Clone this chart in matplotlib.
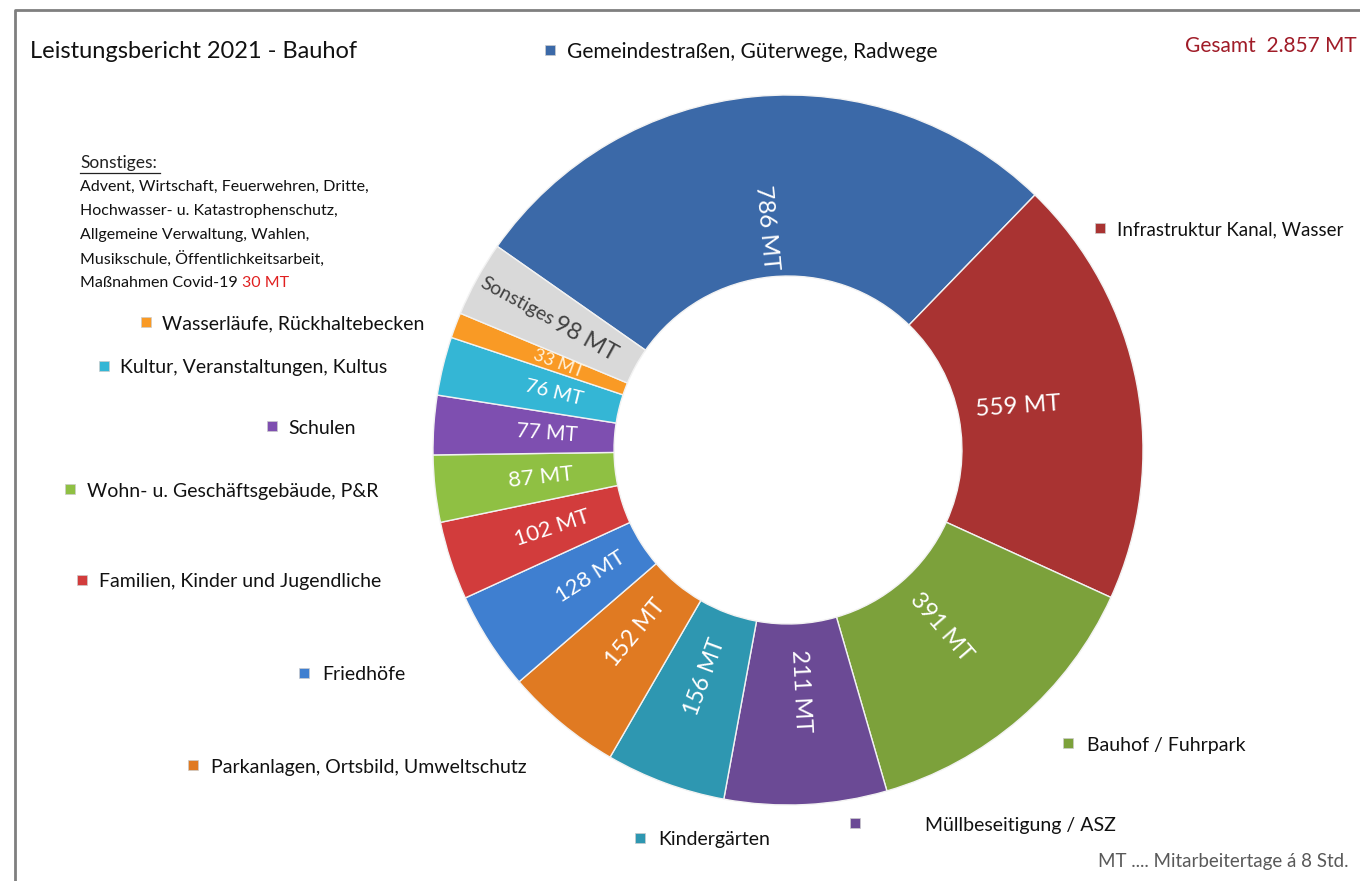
import numpy as np
import matplotlib
matplotlib.use("Agg")
import matplotlib.pyplot as plt
from matplotlib.patches import Rectangle

# ---- data ----
categories = [
    "Gemeindestraßen, Güterwege, Radwege",
    "Infrastruktur Kanal, Wasser",
    "Bauhof / Fuhrpark",
    "Müllbeseitigung / ASZ",
    "Kindergärten",
    "Parkanlagen, Ortsbild, Umweltschutz",
    "Friedhöfe",
    "Familien, Kinder und Jugendliche",
    "Wohn- u. Geschäftsgebäude, P&R",
    "Schulen",
    "Kultur, Veranstaltungen, Kultus",
    "Wasserläufe, Rückhaltebecken",
    "Sonstiges",
]
values = [786, 559, 391, 211, 156, 152, 128, 102, 87, 77, 76, 33, 98]
value_labels = ["786 MT", "559 MT", "391 MT", "211 MT", "156 MT", "152 MT", "128 MT",
                "102 MT", "87 MT", "77 MT", "76 MT", "33 MT", "98 MT"]
title = "Leistungsbericht 2021 - Bauhof"
total_text = "Gesamt  2.857 MT"
footer = "MT .... Mitarbeitertage á 8 Std."
sonstiges_header = "Sonstiges:"
sonstiges_lines = [
    "Advent, Wirtschaft, Feuerwehren, Dritte,",
    "Hochwasser- u. Katastrophenschutz,",
    "Allgemeine Verwaltung, Wahlen,",
    "Musikschule, Öffentlichkeitsarbeit,",
    "Maßnahmen Covid-19",
]
sonstiges_extra = "30 MT"

# ---- style ----
colors = ["#3b69a8", "#a93332", "#7ca13b", "#6b4a95", "#2e97b1", "#e07a22",
          "#3f7fd0", "#d23c3c", "#8fc043", "#7e4fb0", "#34b6d5", "#f99a25", "#d9d9d9"]
label_colors = ["white"] * 11 + ["#fff3dd", "#404040"]
label_radius = [0.63, 0.66, 0.66, 0.68, 0.68, 0.67, 0.66, 0.70, 0.70, 0.68, 0.68, 0.69, 0.77]
label_size = [17.5, 17.5, 17, 17, 16.5, 16.5, 16, 16, 16, 15, 14.5, 13, 17]

# legend positions in pixels (marker x, y) and text x
leg_pos = [
    (550, 50, 567), (1100, 228, 1117), (1068, 743, 1087), (855, 823, 925),
    (640, 838, 658), (193, 765, 211), (304, 673, 322), (82, 580, 99),
    (70, 489, 87), (272, 426, 288), (104, 366, 120), (146, 322, 162),
]
leg_size = [15, 13.5] + [14] * 10

plt.rcParams['font.family'] = ['Lato', 'DejaVu Sans']
W, H = 1360, 881
fig = plt.figure(figsize=(W / 100, H / 100), dpi=100)
fig.patch.set_facecolor("white")

# overlay axes in pixel coords for text/frame
ov = fig.add_axes([0, 0, 1, 1])
ov.set_xlim(0, W)
ov.set_ylim(H, 0)
ov.axis("off")

# pie axes
cx, cy, R = 788, 450, 355
half = 400
ax = fig.add_axes([(cx - half) / W, (H - cy - half) / H, 2 * half / W, 2 * half / H])

startangle = 145
wedges, _ = ax.pie(values, colors=colors, startangle=startangle, counterclock=False,
                   radius=1.0, wedgeprops=dict(width=0.51, edgecolor="#f2f2f2", linewidth=1.0))
L = half / R
ax.set_xlim(-L, L)
ax.set_ylim(-L, L)
ax.set_aspect("equal")
ax.axis("off")

total = sum(values)
ang = startangle
for i, v in enumerate(values):
    span = v / total * 360
    mid = ang - span / 2
    ang -= span
    m = ((mid + 180) % 360) - 180
    if -90 <= m <= 90:
        rot = m
    else:
        rot = m - 180 if m > 0 else m + 180
    if i == 1:
        rot = 4
    r = label_radius[i]
    x = r * np.cos(np.radians(mid))
    y = r * np.sin(np.radians(mid))
    if i == len(values) - 1:
        # "Sonstiges" prefix in smaller type, then value
        d = np.array([np.cos(np.radians(rot)), np.sin(np.radians(rot))])
        p1 = np.array([x, y]) - d * 0.10
        p2 = np.array([x, y]) + d * 0.12
        ax.text(p1[0], p1[1], categories[i], rotation=rot, rotation_mode="anchor",
                ha="center", va="center", color=label_colors[i], fontsize=14)
        ax.text(p2[0], p2[1], value_labels[i], rotation=rot, rotation_mode="anchor",
                ha="center", va="center", color=label_colors[i], fontsize=label_size[i])
    else:
        ax.text(x, y, value_labels[i], rotation=rot, rotation_mode="anchor",
                ha="center", va="center", color=label_colors[i], fontsize=label_size[i])

# frame
ov.plot([15, 15, W + 5], [H + 5, 10, 10], color="#7f7f7f", lw=2, clip_on=False)

ov.text(30, 52, title, fontsize=17, ha="left", va="center", color="#111111")
ov.text(1185, 46, total_text, fontsize=15, ha="left", va="center", color="#a01c28")
ov.text(1098, 862, footer, fontsize=13.5, ha="left", va="center", color="#595959")

# Sonstiges note
ov.text(80, 163, sonstiges_header, fontsize=12.5, ha="left", va="center", color="#222222")
ov.plot([80, 160], [173, 173], color="#222222", lw=0.9)
last = None
for k, line in enumerate(sonstiges_lines):
    last = ov.text(80, 187 + 24 * k, line, fontsize=11.5, ha="left", va="center", color="#111111")
ov.annotate(sonstiges_extra, xy=(1, 0.5), xycoords=last, xytext=(3, 0),
            textcoords="offset points", fontsize=11.5, ha="left", va="center", color="#e02020")

# legend entries
for i, (mx, my, tx) in enumerate(leg_pos):
    ov.add_patch(Rectangle((mx - 5, my - 5), 10, 10, facecolor=colors[i],
                           edgecolor="#cccccc", lw=0.5))
    ov.text(tx, my + 2, categories[i], fontsize=leg_size[i], ha="left", va="center", color="#111111")

fig.savefig("out.png", dpi=100, facecolor="white")
